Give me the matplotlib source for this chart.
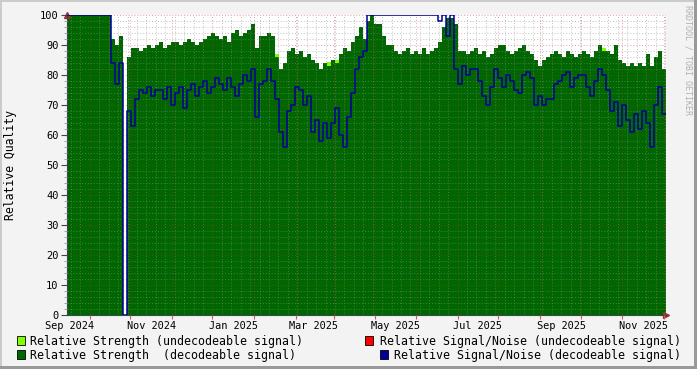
import numpy as np
import pandas as pd
import matplotlib
matplotlib.use("Agg")
import matplotlib.pyplot as plt
import matplotlib.dates as mdates
from matplotlib.patches import Rectangle
from matplotlib.ticker import MultipleLocator

# relative strength of decodeable signal (3-day steps from end of Aug 2024)
strength_dec = [
    100, 100, 100, 100, 100, 100, 100, 100, 100, 100, 100, 92, 90, 93, 0, 86,
    89, 89, 88, 89, 90, 89, 90, 91, 89, 90, 91, 91, 90, 91, 92, 91,
    90, 91, 92, 93, 94, 93, 92, 93, 91, 94, 95, 93, 94, 95, 97, 89,
    93, 93, 94, 93, 86, 82, 84, 88, 89, 87, 88, 86, 87, 85, 84, 82,
    84, 83, 85, 84, 87, 89, 88, 91, 93, 96, 92, 98, 100, 97, 97, 93,
    90, 90, 88, 87, 88, 89, 87, 88, 87, 89, 87, 88, 89, 91, 96, 99,
    99, 97, 88, 88, 87, 88, 89, 87, 88, 86, 87, 89, 90, 90, 88, 87,
    88, 89, 90, 88, 87, 85, 83, 85, 86, 87, 88, 87, 86, 88, 87, 86,
    87, 88, 87, 86, 88, 90, 88, 88, 87, 90, 85, 84, 83, 84, 83, 84,
    83, 87, 83, 86, 88, 82,
]

# relative strength of undecodeable signal (only a few short spikes)
strength_undec = [0] * 150
strength_undec[52] = 87
strength_undec[65] = 84.5
strength_undec[67] = 85
strength_undec[134] = 89

# relative signal/noise of decodeable signal
snr_dec = [
    100, 100, 100, 100, 100, 100, 100, 100, 100, 100, 100, 84, 77, 84, 0, 68,
    63, 72, 75, 74, 76, 73, 75, 75, 72, 76, 70, 74, 76, 69, 75, 77,
    73, 76, 78, 74, 76, 79, 77, 75, 79, 76, 73, 77, 80, 78, 82, 66,
    77, 78, 82, 78, 72, 61, 56, 68, 70, 76, 75, 70, 73, 61, 65, 58,
    64, 59, 64, 69, 60, 56, 66, 74, 82, 86, 88, 100, 100, 100, 100, 100,
    100, 100, 100, 100, 100, 100, 100, 100, 100, 100, 100, 100, 100, 98, 100, 93,
    100, 82, 77, 83, 80, 82, 82, 78, 73, 70, 76, 82, 79, 76, 80, 78,
    75, 74, 80, 81, 79, 70, 73, 70, 72, 72, 77, 78, 80, 81, 76, 79,
    80, 80, 76, 73, 78, 82, 80, 75, 68, 71, 63, 70, 65, 61, 67, 62,
    68, 64, 56, 70, 76, 67,
]

month_dates = ["2024-09-01", "2024-11-01", "2025-01-01", "2025-03-01",
               "2025-05-01", "2025-07-01", "2025-09-01", "2025-11-01"]
month_labels = ["Sep 2024", "Nov 2024", "Jan 2025", "Mar 2025",
                "May 2025", "Jul 2025", "Sep 2025", "Nov 2025"]

legend_items = [
    ("Relative Strength (undecodeable signal)", "#80ff00"),
    ("Relative Signal/Noise (undecodeable signal)", "#ff0000"),
    ("Relative Strength  (decodeable signal)", "#006600"),
    ("Relative Signal/Noise (decodeable signal)", "#000099"),
]

plt.rcParams["font.family"] = ["DejaVu Sans Mono"]
W, H = 697, 369

fig = plt.figure(figsize=(W / 100, H / 100), dpi=100, facecolor="#f3f3f3")
ax = fig.add_axes([67 / W, 54 / H, 599 / W, 300 / H])
ax.set_facecolor("white")

t = pd.date_range("2024-08-30 02:00", "2025-11-17 18:00", periods=len(strength_dec) + 1)


def ext(a):
    return np.append(a, a[-1])


ax.fill_between(t, ext(strength_undec), step="post", color="#80ff00", lw=0, zorder=1)
ax.fill_between(t, ext(strength_dec), step="post", color="#006600", lw=0, zorder=2)
ax.step(t, ext(snr_dec), where="post", color="#000099", lw=1.1, zorder=3)

ax.set_xlim(t[0], t[-1])
ax.set_ylim(0, 100)

ax.yaxis.set_major_locator(MultipleLocator(10))
ax.yaxis.set_minor_locator(MultipleLocator(2))
ax.xaxis.set_major_locator(mdates.MonthLocator(bymonthday=16))
ax.xaxis.set_minor_locator(mdates.WeekdayLocator(byweekday=mdates.MO))

ax.set_axisbelow(False)
ax.grid(which="minor", color="#8c8c8c", alpha=0.55, ls=(0, (1, 2)), lw=0.7)
ax.grid(which="major", color="#c03030", alpha=0.45, ls=(0, (1, 2)), lw=0.7)

ax.tick_params(axis="x", which="major", length=3, color="#c06060", labelbottom=False)
ax.tick_params(axis="x", which="minor", length=0)
ax.tick_params(axis="y", which="major", length=4, color="#444444", labelsize=7.5, pad=2)
ax.tick_params(axis="y", which="minor", length=2, color="#999999")

for s in ["top", "right"]:
    ax.spines[s].set_visible(False)
for s in ["left", "bottom"]:
    ax.spines[s].set_color("#2c4d43")
    ax.spines[s].set_linewidth(0.8)

for d, lab in zip(month_dates, month_labels):
    ax.text(pd.Timestamp(d), -0.036, lab, transform=ax.get_xaxis_transform(),
            ha="center", va="center", fontsize=7.4)

# arrows at the ends of the axes
ax.plot([0], [1.0], marker="^", ms=4, color="#993333", transform=ax.transAxes, clip_on=False)
ax.plot([1.0], [0], marker=">", ms=4, color="#993333", transform=ax.transAxes, clip_on=False)

fig.text(11 / W, 1 - 165 / H, "Relative Quality", rotation=90, ha="center", va="center", fontsize=8.3)
fig.text(688 / W, 1 - 60 / H, "RRDTOOL / TOBI OETIKER", rotation=270, ha="center", va="center",
         fontsize=6, color="#b0b0b0")

# legend, drawn as boxes and text like rrdtool does
legend_pos = [(17, 336, 30), (365, 336, 380), (17, 350, 30), (380, 350, 394)]
for (label, col), (bx, by, tx) in zip(legend_items, legend_pos):
    fig.add_artist(Rectangle((bx / W, 1 - (by + 9) / H), 8 / W, 9 / H, transform=fig.transFigure,
                             fc=col, ec="black", lw=0.6))
    fig.text(tx / W, 1 - (by + 5) / H, label, ha="left", va="center", fontsize=8.4)

# shaded frame
fig.add_artist(Rectangle((0, 0), 2 / W, 1, transform=fig.transFigure, fc="#cbcbcb", lw=0))
fig.add_artist(Rectangle((0, 1 - 2 / H), 1, 2 / H, transform=fig.transFigure, fc="#cbcbcb", lw=0))
fig.add_artist(Rectangle((1 - 3 / W, 0), 3 / W, 1, transform=fig.transFigure, fc="#999999", lw=0))
fig.add_artist(Rectangle((0, 0), 1, 3 / H, transform=fig.transFigure, fc="#999999", lw=0))

fig.savefig("out.png", dpi=100, facecolor=fig.get_facecolor())
